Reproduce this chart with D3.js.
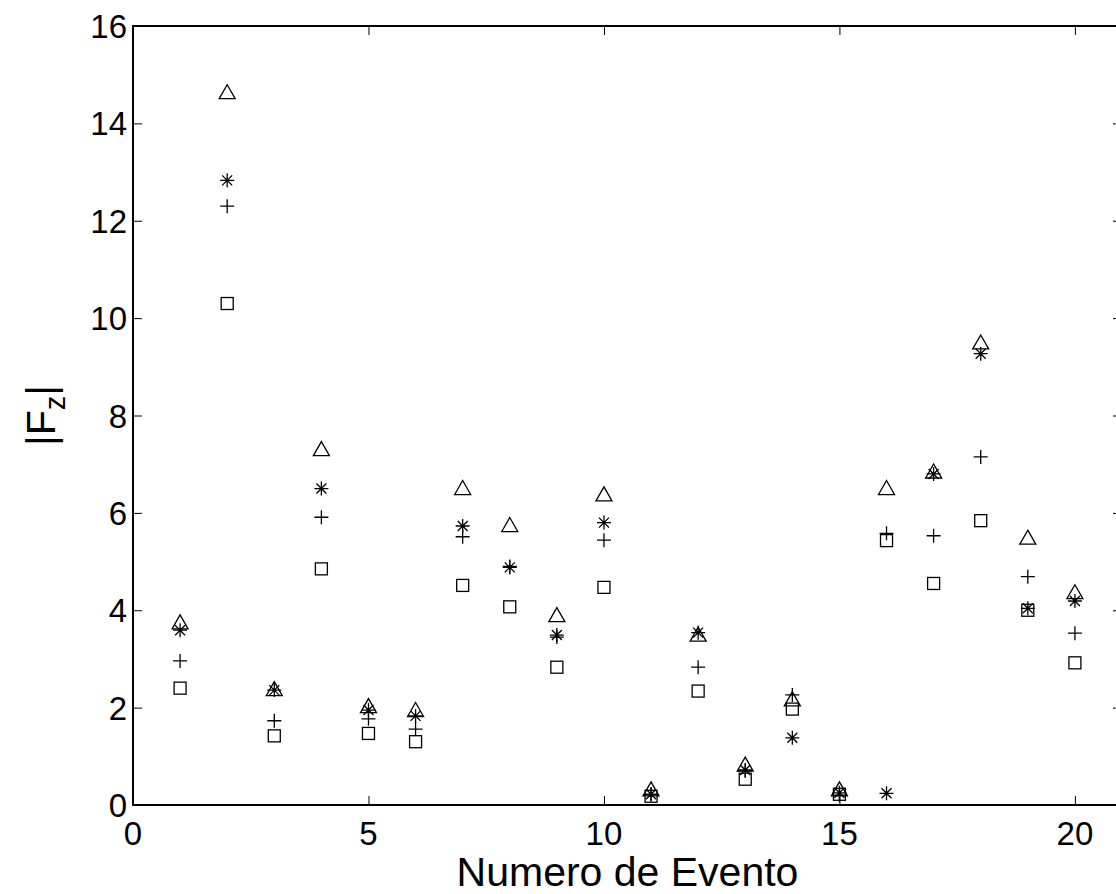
<!DOCTYPE html>
<html>
<head>
<meta charset="utf-8">
<script src="https://cdn.jsdelivr.net/npm/d3@7"></script>
<style>
  body { margin: 0; background: #fff; }
  svg { display: block; }
</style>
</head>
<body>
<div id="chart-area"></div>
<script>
// events 1..20, four estimates of |Fz| each
var eventos = [1,2,3,4,5,6,7,8,9,10,11,12,13,14,15,16,17,18,19,20];
var triangulo = [3.74,14.63,2.37,7.30,2.02,1.94,6.50,5.74,3.89,6.37,0.31,3.49,0.82,2.16,0.31,6.50,6.84,9.49,5.48,4.36];
var estrela   = [3.59,12.83,2.36,6.50,1.95,1.83,5.73,4.88,3.49,5.80,0.22,3.54,0.72,1.38,0.25,0.24,6.80,9.27,4.04,4.19];
var mais      = [2.96,12.30,1.73,5.91,1.77,1.56,5.51,4.90,3.45,5.44,0.22,2.83,0.70,2.26,0.20,5.58,5.53,7.15,4.69,3.53];
var quadrado  = [2.40,10.30,1.42,4.85,1.47,1.30,4.51,4.07,2.83,4.47,0.18,2.34,0.53,1.97,0.22,5.43,4.55,5.84,4.00,2.92];

var xTicks = [0,5,10,15,20];
var yTicks = [0,2,4,6,8,10,12,14,16];

var W = 1116, H = 894;
var margin = {left:133, top:26};
var width = 989;   // plot runs past the right edge of the picture
var height = 779;

var svg = d3.select("#chart-area")
	.append("svg")
		.attr("width", W)
		.attr("height", H);

var g = svg.append("g")
	.attr("transform","translate("+margin.left+","+margin.top+")");

var x = d3.scaleLinear().domain([0,21]).range([0,width]);
var y = d3.scaleLinear().domain([0,16]).range([height,0]);

// ticks on all four sides, pointing inward
var tk = 9;
g.append("g")
	.attr("transform","translate(0,"+height+")")
	.call(d3.axisTop(x).tickValues(xTicks).tickSize(tk).tickFormat(""));
g.append("g")
	.call(d3.axisBottom(x).tickValues(xTicks).tickSize(tk).tickFormat(""));
g.append("g")
	.call(d3.axisRight(y).tickValues(yTicks).tickSize(tk).tickFormat(""));
g.append("g")
	.attr("transform","translate("+width+",0)")
	.call(d3.axisLeft(y).tickValues(yTicks).tickSize(tk).tickFormat(""));
g.selectAll(".domain").remove();
g.selectAll(".tick line").attr("stroke","#000").attr("stroke-width",1);

// box
g.append("rect")
	.attr("x",0).attr("y",0)
	.attr("width",width).attr("height",height)
	.attr("fill","none")
	.attr("stroke","#000")
	.attr("stroke-width",2);

// tick labels
g.selectAll(".xlab")
	.data(xTicks)
	.enter().append("text")
		.attr("x", function(d){ return x(d); })
		.attr("y", height + 40)
		.attr("text-anchor","middle")
		.attr("font-family","Liberation Sans, Arial, sans-serif")
		.attr("font-size","33px")
		.text(function(d){ return d; });

g.selectAll(".ylab")
	.data(yTicks)
	.enter().append("text")
		.attr("x", -6)
		.attr("y", function(d){ return y(d) + 12; })
		.attr("text-anchor","end")
		.attr("font-family","Liberation Sans, Arial, sans-serif")
		.attr("font-size","33px")
		.text(function(d){ return d; });

// axis titles, centred on the axes box
g.append("text")
	.attr("x", width / 2)
	.attr("y", height + 81)
	.attr("text-anchor","middle")
	.attr("font-family","Liberation Sans, Arial, sans-serif")
	.attr("font-size","41px")
	.text("Numero de Evento");

var yt = g.append("text")
	.attr("transform","translate(-78,"+(height/2)+") rotate(-90)")
	.attr("text-anchor","middle")
	.attr("font-family","Liberation Sans, Arial, sans-serif")
	.attr("font-size","41px");
yt.append("tspan").text("|F");
yt.append("tspan").attr("font-size","29px").attr("dy", 10).text("z");
yt.append("tspan").attr("dy", -10).text("|");

// markers
var mk = g.append("g")
	.attr("fill","none")
	.attr("stroke","#000")
	.attr("stroke-width",1.3);

function pts(vals){
	return eventos.map(function(e,i){ return {x:e, v:vals[i]}; });
}

mk.selectAll(".tri")
	.data(pts(triangulo))
	.enter().append("path")
		.attr("d", function(d){
			var cx = x(d.x), cy = y(d.v);
			return "M"+cx+","+(cy-8)+"L"+(cx+8)+","+(cy+6)+"L"+(cx-8)+","+(cy+6)+"Z";
		});

mk.selectAll(".sq")
	.data(pts(quadrado))
	.enter().append("rect")
		.attr("x", function(d){ return x(d.x) - 6; })
		.attr("y", function(d){ return y(d.v) - 6; })
		.attr("width", 12)
		.attr("height", 12);

mk.selectAll(".pl")
	.data(pts(mais))
	.enter().append("path")
		.attr("d", function(d){
			var cx = x(d.x), cy = y(d.v);
			return "M"+(cx-7)+","+cy+"H"+(cx+7)+"M"+cx+","+(cy-7)+"V"+(cy+7);
		});

mk.selectAll(".st")
	.data(pts(estrela))
	.enter().append("path")
		.attr("d", function(d){
			var cx = x(d.x), cy = y(d.v), r = 7, a = 5;
			return "M"+(cx-r)+","+cy+"H"+(cx+r)
				+"M"+cx+","+(cy-r)+"V"+(cy+r)
				+"M"+(cx-a)+","+(cy-a)+"L"+(cx+a)+","+(cy+a)
				+"M"+(cx-a)+","+(cy+a)+"L"+(cx+a)+","+(cy-a);
		});
</script>
</body>
</html>
